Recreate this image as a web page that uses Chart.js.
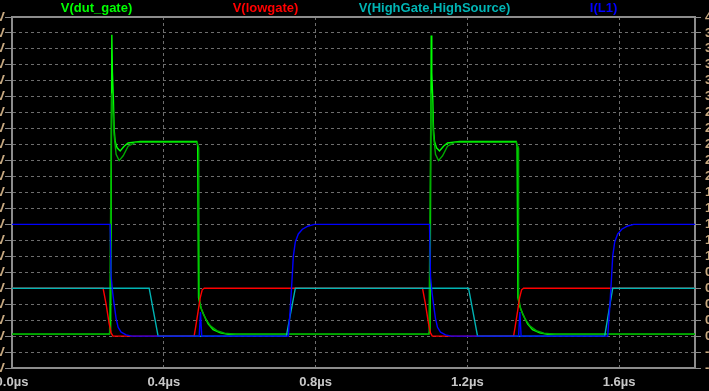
<!DOCTYPE html>
<html>
<head>
<meta charset="utf-8">
<script src="https://cdn.jsdelivr.net/npm/chart.js@4.4.1/dist/chart.umd.min.js"></script>
<style>
  html, body { margin: 0; padding: 0; background: #000; overflow: hidden; }
  #wrap { position: absolute; left: -30px; top: 0; width: 769px; height: 391px; }
</style>
</head>
<body>
<div id="wrap"><canvas id="wave_chart"></canvas></div>
<script>
// trace names, in LTspice header order
const trace_names = ["V(dut_gate)", "V(lowgate)", "V(HighGate,HighSource)", "I(L1)"];
const trace_colors = ["#00ff00", "#ff0000", "#00b4b4", "#0000ff"];

// V(dut_gate), volts over time in µs
const dut_gate_time = [0, 0.2559, 0.2599, 0.2631, 0.2646, 0.2673, 0.2691, 0.2718, 0.2770, 0.2850, 0.2955, 0.3060, 0.3380, 0.4868, 0.4894, 0.4916, 0.4960, 0.5040, 0.5170, 0.5300, 0.5490, 0.5700,
    1.0976, 1.1016, 1.1048, 1.1063, 1.1090, 1.1108, 1.1135, 1.1187, 1.1267, 1.1372, 1.1477, 1.1797, 1.3285, 1.3311, 1.3333, 1.3377, 1.3457, 1.3587, 1.3717, 1.3907, 1.4117, 1.8];
const dut_gate_v = [0.6, 0.6, 1.5, 94.4, 82.8, 74, 65, 61, 59, 58, 59.5, 60.5, 61, 61, 59.5, 12, 9.5, 7, 3.8, 2, 1, 0.6,
    0.6, 1.5, 94.2, 82.5, 74, 65, 61, 59, 58, 59.5, 60.5, 61, 61, 59.5, 12, 9.5, 7, 3.8, 2, 1, 0.6, 0.6];

// second step of V(dut_gate) (darker trace)
const dut_gate_step_time = [0, 0.2572, 0.2625, 0.2652, 0.2691, 0.2744, 0.2823, 0.2930, 0.3060, 0.3250, 0.4880, 0.4921, 0.4934, 0.4990, 0.5100, 0.5230, 0.5400, 0.5600, 0.5900,
    1.0989, 1.1042, 1.1069, 1.1108, 1.1161, 1.1240, 1.1347, 1.1477, 1.1667, 1.3297, 1.3338, 1.3351, 1.3407, 1.3517, 1.3647, 1.3817, 1.4017, 1.4317, 1.8];
const dut_gate_step_v = [0.6, 0.6, 76, 72, 63, 57, 55, 56.5, 59.5, 60.7, 60.7, 59, 12, 8.5, 5.5, 3.2, 1.7, 0.9, 0.6,
    0.6, 76, 72, 63, 57, 55, 56.5, 59.5, 60.7, 60.7, 59, 12, 8.5, 5.5, 3.2, 1.7, 0.9, 0.6, 0.6];

// V(lowgate)
const low_gate_time = [0, 0.2400, 0.2480, 0.2559, 0.2612, 0.2660, 0.4800, 0.4842, 0.4908, 0.4960, 0.5013, 0.5066,
    1.0818, 1.0897, 1.0976, 1.1029, 1.1077, 1.3219, 1.3261, 1.3327, 1.3377, 1.3430, 1.3483, 1.8];
const low_gate_v = [15, 15, 10, 4, 1, 0, 0, 3, 8, 12, 14.5, 15,
    15, 10, 4, 1, 0, 0, 3, 8, 12, 14.5, 15, 15];

// V(HighGate,HighSource)
const high_gate_time = [0, 0.3615, 0.3850, 0.7230, 0.7467, 1.2032, 1.2269, 1.5620, 1.5831, 1.8];
const high_gate_v = [15, 15, 0, 0, 15, 15, 0, 0, 15, 15];

// I(L1), amps
const inductor_time = [0, 0.2586, 0.2612, 0.2652, 0.2691, 0.2744, 0.2797, 0.2876, 0.3008, 0.3166, 0.4934, 0.4968, 0.5000,
    0.7282, 0.7335, 0.7380, 0.7414, 0.7467, 0.7546, 0.7652, 0.7810, 0.7968,
    1.1003, 1.1029, 1.1069, 1.1108, 1.1161, 1.1214, 1.1293, 1.1425, 1.1583, 1.3351, 1.3385, 1.3417,
    1.5699, 1.5752, 1.5797, 1.5831, 1.5884, 1.5963, 1.6069, 1.6227, 1.6385, 1.8];
const inductor_i = [1.4, 1.4, 0.75, 0.55, 0.4, 0.22, 0.11, 0.05, 0.015, 0, 0, 0.3, 0,
    0, 0.35, 0.71, 1.0, 1.18, 1.28, 1.34, 1.38, 1.4,
    1.4, 0.75, 0.55, 0.4, 0.22, 0.11, 0.05, 0.015, 0, 0, 0.3, 0,
    0, 0.35, 0.71, 1.0, 1.18, 1.28, 1.34, 1.38, 1.4, 1.4];

// axis ranges
const time_min = 0, time_max = 1.8, time_step = 0.4;
const volt_min = -10, volt_max = 100, volt_step = 5;
const amp_min = -0.4, amp_max = 4.0, amp_step = 0.2;

function to_points(xs, ys)
{
    return xs.map((x, i) => ({ x: x, y: ys[i] }));
}

const frame_color = "#8c8c8c";
const grid_color = "#6e6e6e";
const label_font = { family: "'Liberation Sans', Arial, sans-serif", size: 13, weight: "bold" };

const background_plugin =
{
    id: "background",
    beforeDraw(chart)
    {
        const ctx = chart.ctx;
        ctx.save();
        ctx.fillStyle = "#000";
        ctx.fillRect(0, 0, chart.width, chart.height);
        ctx.restore();
    },
    afterDraw(chart)
    {
        const ctx = chart.ctx;
        const area = chart.chartArea;
        ctx.save();
        // solid top frame line
        ctx.strokeStyle = frame_color;
        ctx.lineWidth = 2;
        ctx.beginPath();
        ctx.moveTo(area.left - 1, area.top);
        ctx.lineTo(area.right + 1, area.top);
        ctx.stroke();
        // trace names across the top
        ctx.font = "bold 13px 'Liberation Sans', Arial, sans-serif";
        ctx.textAlign = "center";
        ctx.textBaseline = "middle";
        const slot = (area.right - area.left - 7) / trace_names.length;
        trace_names.forEach((name, i) =>
        {
            ctx.fillStyle = trace_colors[i];
            ctx.fillText(name, area.left + slot * (i + 0.5), 8);
        });
        ctx.restore();
    }
};

const wave_chart = new Chart("wave_chart",
{
    type: "line",
    data:
    {
        datasets:
        [
            {
                data: to_points(dut_gate_time, dut_gate_v),
                borderColor: trace_colors[0],
                yAxisID: "volts",
                order: 5
            },
            {
                data: to_points(dut_gate_step_time, dut_gate_step_v),
                borderColor: "#00a800",
                yAxisID: "volts",
                order: 4
            },
            {
                data: to_points(low_gate_time, low_gate_v),
                borderColor: trace_colors[1],
                yAxisID: "volts",
                order: 3
            },
            {
                data: to_points(high_gate_time, high_gate_v),
                borderColor: trace_colors[2],
                yAxisID: "volts",
                order: 2
            },
            {
                data: to_points(inductor_time, inductor_i),
                borderColor: trace_colors[3],
                yAxisID: "amps",
                order: 1
            }
        ]
    },
    options:
    {
        animation: false,
        responsive: true,
        maintainAspectRatio: false,
        layout: { padding: { top: 17, left: 0, right: 0, bottom: 0 } },
        elements:
        {
            point: { radius: 0 },
            line: { borderWidth: 1.4, tension: 0, fill: false }
        },
        plugins:
        {
            legend: { display: false },
            tooltip: { enabled: false }
        },
        scales:
        {
            x:
            {
                type: "linear",
                min: time_min,
                max: time_max,
                afterFit(scale) { scale.height = 23; },
                border: { display: true, color: frame_color, width: 2, dash: [3, 3] },
                grid: { color: grid_color, drawTicks: false },
                ticks:
                {
                    stepSize: time_step,
                    includeBounds: false,
                    autoSkip: false,
                    maxRotation: 0,
                    padding: 7,
                    color: "#c8c8c8",
                    font: label_font,
                    callback: (value) => value.toFixed(1) + "µs"
                }
            },
            volts:
            {
                type: "linear",
                position: "left",
                min: volt_min,
                max: volt_max,
                afterFit(scale) { scale.width = 42; },
                border: { display: true, color: frame_color, width: 2, dash: [3, 3] },
                grid: { color: grid_color, tickLength: 7, tickColor: frame_color, tickBorderDash: [] },
                ticks:
                {
                    stepSize: volt_step,
                    autoSkip: false,
                    padding: 0,
                    color: "#c8aa82",
                    font: label_font,
                    callback: (value) => value + "V"
                }
            },
            amps:
            {
                type: "linear",
                position: "right",
                min: amp_min,
                max: amp_max,
                afterFit(scale) { scale.width = 44; },
                border: { display: true, color: frame_color, width: 2 },
                grid: { drawOnChartArea: false, tickLength: 6, color: frame_color },
                ticks:
                {
                    stepSize: amp_step,
                    autoSkip: false,
                    padding: 4,
                    color: "#c8aa82",
                    font: label_font,
                    callback: (value) => value.toFixed(1) + "A"
                }
            }
        }
    },
    plugins: [background_plugin]
});
</script>
</body>
</html>
